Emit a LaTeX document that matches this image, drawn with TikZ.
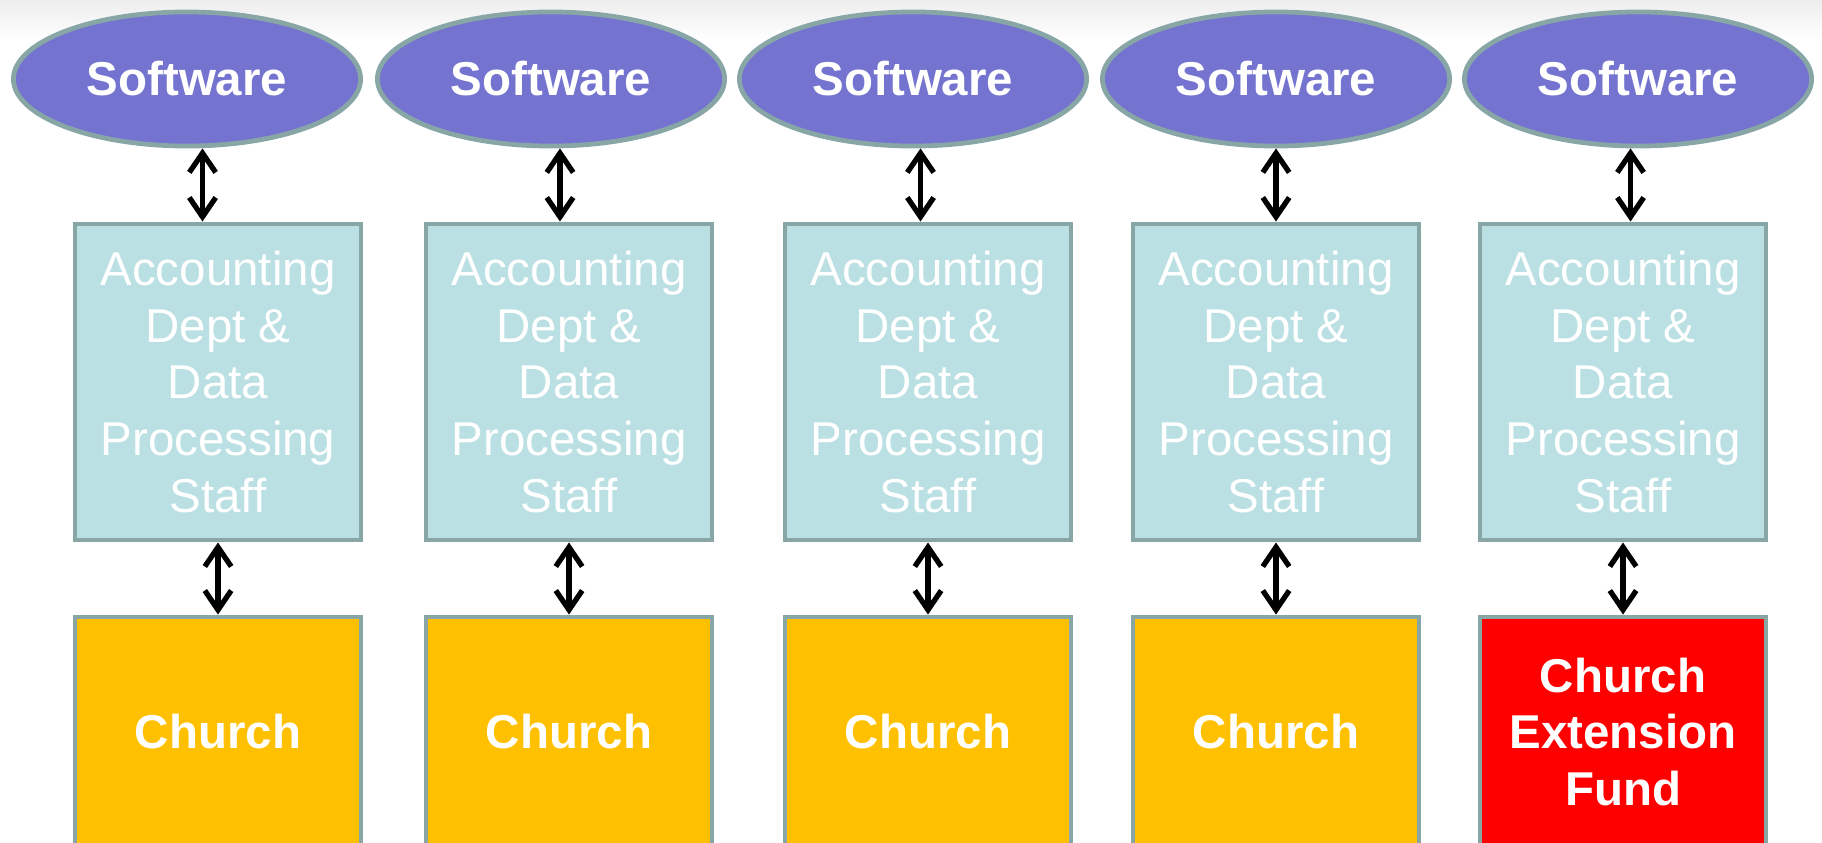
\documentclass[tikz,border=0pt]{standalone}
\usepackage{fontspec}
\setmainfont{Liberation Sans}
\usetikzlibrary{arrows.meta}
\usetikzlibrary{calc,positioning,shapes.geometric}

\definecolor{softblue}{RGB}{116,116,208}
\definecolor{edgegray}{RGB}{136,166,166}
\definecolor{staffblue}{RGB}{187,224,227}
\definecolor{churchgold}{RGB}{255,192,0}

\begin{document}
\begin{tikzpicture}[x=0.01cm,y=-0.01cm,
  every node/.style={draw=edgegray,line width=1.35pt,text=white,align=center,font=\fontsize{13.5}{16.2}\selectfont},
  soft/.style={ellipse,fill=softblue,minimum width=3.47cm,minimum height=1.34cm,font=\fontsize{13.5}{16.2}\selectfont\bfseries},
  staff/.style={rectangle,fill=staffblue,minimum width=2.86cm,minimum height=3.16cm},
  church/.style={rectangle,fill=churchgold,minimum width=2.86cm,minimum height=2.30cm,font=\fontsize{13.5}{16.2}\selectfont\bfseries},
  link/.style={{Straight Barb[length=5.5pt,width=7.5pt]}-{Straight Barb[length=5.5pt,width=7.5pt]},line width=1.5pt,line cap=round,line join=round}]

\useasboundingbox (0,0) rectangle (1822,842);
\clip (0,0) rectangle (1822,842);
\shade[top color=black!7,bottom color=white] (0,0) rectangle (1822,40);

% top row and staff boxes
\foreach \i/\sx/\bx in {1/187/218,2/551/569,3/913/928,4/1276/1276,5/1638/1623} {
  \node[soft] (s\i) at (\sx,79) {Software};
  \node[staff] (a\i) at (\bx,382) {Accounting\\Dept \&\\Data\\Processing\\Staff};
}

% churches
\foreach \i/\bx in {1/218,2/569,3/928,4/1276}
  \node[church] (c\i) at (\bx,732) {Church};
\node[church,fill=red] (c5) at (1623,732) {Church\\Extension\\Fund};

% two-way links
\foreach \i in {1,...,5} {
  \coordinate (m\i) at ($(s\i.south)!.5!(a\i.north)$);
  \draw[link] (m\i |- s\i.south) -- (m\i |- a\i.north);
  \draw[link] (a\i) -- (c\i);
}
\end{tikzpicture}
\end{document}
